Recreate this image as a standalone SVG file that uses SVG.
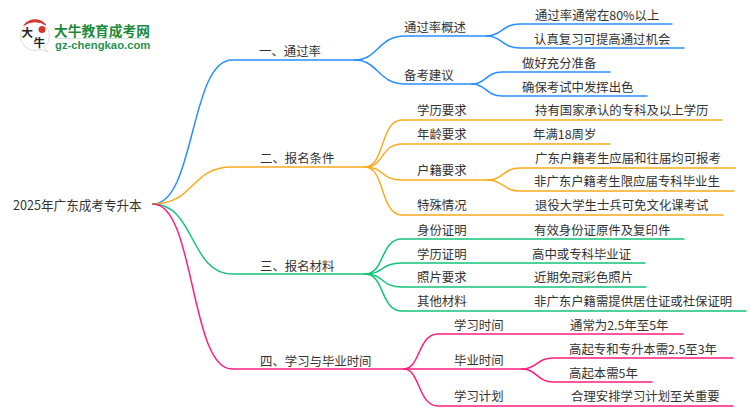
<svg xmlns="http://www.w3.org/2000/svg" width="750" height="410" viewBox="0 0 750 410">
<style>
text{font-family:"Noto Sans CJK SC","Noto Sans",sans-serif;font-size:12.4px;fill:#333;dominant-baseline:central}
path{fill:none;stroke-width:1.5;stroke-linecap:round}
.b path{stroke:#2a8fff}.o path{stroke:#fbab1c}.g path{stroke:#14c47c}.p path{stroke:#ff2080}
.l1{font-weight:700;fill:#1d8a3a;font-size:13.7px}
.l2{font-family:"Liberation Sans",sans-serif;font-weight:700;fill:#2c9150;font-size:11.3px}
.l3{font-size:11.5px;font-weight:700;fill:#222}
</style>
<rect width="750" height="410" fill="#fff"/>
<g id="logo">
<circle cx="35" cy="36" r="14.5" fill="#fff" stroke="#ddd" stroke-width="1"/>
<path d="M40 49 L48 52 L43 45" style="fill:#fff;stroke:#ddd;stroke-width:1"/>
<path d="M24 25 A14 14 0 0 1 46 25 A20 20 0 0 0 24 25Z" style="fill:#d8332c;stroke:#d8332c;stroke-width:1"/>
<circle cx="42" cy="29.500" r="3.5" fill="#d8332c"/>
<text class="l3" x="21.500" y="32">大</text>
<text class="l3" x="33.500" y="41.500">牛</text>
<text class="l1" x="54" y="30">大牛教育成考网</text>
<rect x="55" y="38" width="95" height="1" fill="#cfe5d6"/>
<text class="l2" x="55" y="45">gz-chengkao.com</text>
</g>
<g id="connectors">
<g class="b">
<path d="M153 204C195 204 190 60 232 60H355"/>
<path d="M355 60C378 60 378 36 405 36H487"/>
<path d="M355 60C378 60 378 84 405 84H472"/>
<path d="M487 36C502 36 502 24 520 24H672"/>
<path d="M487 36C502 36 502 48 520 48H684"/>
<path d="M472 84C486 84 486 72 502 72H610"/>
<path d="M472 84C486 84 486 96 502 96H647"/>
</g>
<g class="o">
<path d="M153 204C195 204 190 167 232 167H365"/>
<path d="M365 167C385 167 380 120 402 120H722"/>
<path d="M365 167C385 167 380 144 402 144H610"/>
<path d="M365 167C385 167 380 180 402 180H488"/>
<path d="M365 167C385 167 380 215 402 215H723"/>
<path d="M488 180C503 180 503 168 520 168H735"/>
<path d="M488 180C503 180 503 191 520 191H734"/>
</g>
<g class="g">
<path d="M153 204C195 204 190 274 232 274H365"/>
<path d="M365 274C385 274 380 239 402 239H684"/>
<path d="M365 274C385 274 380 263 402 263H645"/>
<path d="M365 274C385 274 380 287 402 287H646"/>
<path d="M365 274C385 274 380 311 402 311H746"/>
</g>
<g class="p">
<path d="M153 204C195 204 190 369 232 369H404"/>
<path d="M404 369C420 369 418 334 438 334H683"/>
<path d="M404 369H522"/>
<path d="M404 369C420 369 418 406 438 406H733"/>
<path d="M522 369C537 369 537 358 553 358H733"/>
<path d="M522 369C537 369 537 382 553 382H652"/>
</g>
</g>
<g id="root"><text x="13" y="204" style="font-size:12.600px">2025年广东成考专升本</text></g>
<g id="n1"><text x="259" y="51">一、通过率</text></g>
<g id="n2"><text x="260" y="158">二、报名条件</text></g>
<g id="n3"><text x="260" y="266">三、报名材料</text></g>
<g id="n4"><text x="260" y="361">四、学习与毕业时间</text></g>
<g id="n1-1"><text x="404" y="27">通过率概述</text></g>
<g id="n1-2"><text x="404" y="75">备考建议</text></g>
<g id="n1-1-1"><text x="535" y="15">通过率通常在80%以上</text></g>
<g id="n1-1-2"><text x="534" y="39">认真复习可提高通过机会</text></g>
<g id="n1-2-1"><text x="522" y="63">做好充分准备</text></g>
<g id="n1-2-2"><text x="522" y="87">确保考试中发挥出色</text></g>
<g id="n2-1"><text x="417" y="110">学历要求</text><text x="535" y="110">持有国家承认的专科及以上学历</text></g>
<g id="n2-2"><text x="417" y="134">年龄要求</text><text x="533" y="134">年满18周岁</text></g>
<g id="n2-3"><text x="417" y="170">户籍要求</text></g>
<g id="n2-3-1"><text x="535" y="158">广东户籍考生应届和往届均可报考</text></g>
<g id="n2-3-2"><text x="534" y="181">非广东户籍考生限应届专科毕业生</text></g>
<g id="n2-4"><text x="417" y="205">特殊情况</text><text x="535" y="205">退役大学生士兵可免文化课考试</text></g>
<g id="n3-1"><text x="417" y="230">身份证明</text><text x="534" y="230">有效身份证原件及复印件</text></g>
<g id="n3-2"><text x="417" y="254">学历证明</text><text x="532" y="254">高中或专科毕业证</text></g>
<g id="n3-3"><text x="417" y="277">照片要求</text><text x="534" y="277">近期免冠彩色照片</text></g>
<g id="n3-4"><text x="417" y="301">其他材料</text><text x="534" y="301">非广东户籍需提供居住证或社保证明</text></g>
<g id="n4-1"><text x="454" y="325">学习时间</text><text x="570" y="325">通常为2.5年至5年</text></g>
<g id="n4-2"><text x="454" y="360">毕业时间</text></g>
<g id="n4-2-1"><text x="569" y="349">高起专和专升本需2.5至3年</text></g>
<g id="n4-2-2"><text x="569" y="373">高起本需5年</text></g>
<g id="n4-3"><text x="454" y="396">学习计划</text><text x="571" y="396">合理安排学习计划至关重要</text></g>
</svg>
